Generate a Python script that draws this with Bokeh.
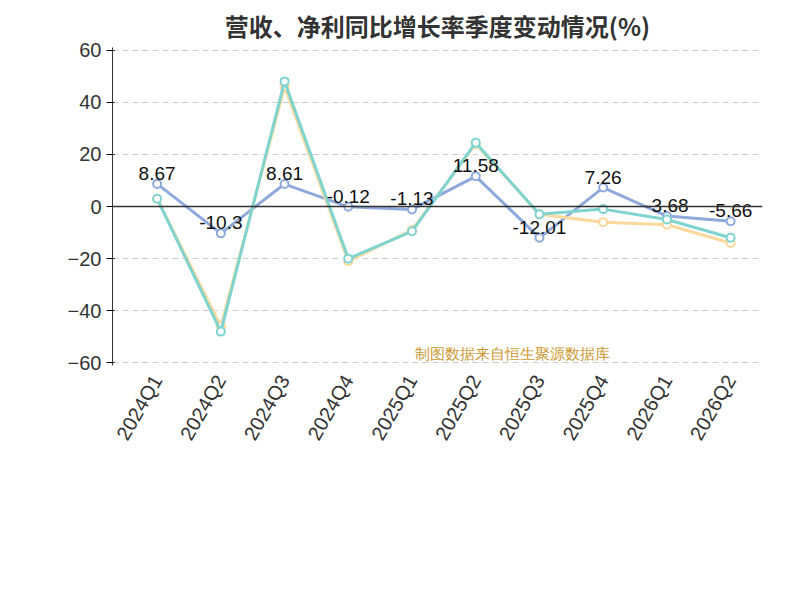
import math
from bokeh.plotting import figure
from bokeh.models import FixedTicker, Span, Legend, LegendItem, Label, ColumnDataSource
from bokeh.embed import file_html
from bokeh.resources import INLINE

quarters = ["2024Q1","2024Q2","2024Q3","2024Q4","2025Q1","2025Q2","2025Q3","2025Q4","2026Q1","2026Q2"]
revenue = [8.67, -10.3, 8.61, -0.12, -1.13, 11.58, -12.01, 7.26, -3.68, -5.66]
net_profit = [3.0, -46.0, 46.0, -21.0, -9.0, 24.0, -3.0, -6.0, -7.0, -14.0]
deducted = [3.0, -48.0, 48.0, -20.0, -9.5, 24.5, -3.0, -1.0, -5.0, -12.0]
yticks = [-60, -40, -20, 0, 20, 40, 60]

xs = list(range(len(quarters)))
p = figure(width=784, height=584, output_backend="svg", toolbar_location=None,
           x_range=(-0.7, 9.5), y_range=(-61, 61),
           min_border_left=112, min_border_right=22, min_border_top=40, min_border_bottom=219)
p.outline_line_color = None
p.title.text = "营收、净利同比增长率季度变动情况(%)"
p.title.align = "center"
p.title.text_font_size = "24px"
p.title.text_color = "#333333"
p.title.text_font = "Noto Sans CJK SC"

p.xgrid.grid_line_color = None
p.ygrid.grid_line_color = "#cccccc"
p.ygrid.grid_line_dash = "6 4"
p.yaxis.ticker = FixedTicker(ticks=yticks)
p.yaxis.major_label_text_font_size = "20px"
p.yaxis.major_label_text_color = "#333333"
p.yaxis.axis_line_color = "#333333"
p.xaxis.ticker = FixedTicker(ticks=xs)
p.xaxis.major_label_overrides = {i: q for i, q in enumerate(quarters)}
p.xaxis.major_label_orientation = math.pi / 3
p.xaxis.major_label_text_font_size = "20px"
p.xaxis.major_label_text_color = "#333333"
p.xaxis.axis_line_color = None
p.xaxis.major_tick_line_color = None
p.add_layout(Span(location=0, dimension="width", line_color="#333333", line_width=1.5))

colors = ["#8fa9dc", "#fbd89b", "#7fd4d0"]
names = ["营业总收入同比增长率", "归母净利润同比增长率", "扣非净利润同比增长率"]
items = []
for data, c, n in zip([revenue, net_profit, deducted], colors, names):
    l = p.line(xs, data, line_color=c, line_width=3)
    s = p.scatter(xs, data, size=8, fill_color="white", line_color=c, line_width=2)
    items.append(LegendItem(label=n, renderers=[l, s]))

src = ColumnDataSource(dict(x=xs, y=revenue, t=[str(v) for v in revenue]))
p.text(x="x", y="y", text="t", source=src, text_align="center", text_baseline="bottom",
       y_offset=-4, text_font_size="19px", text_color="#111111")

legend = Legend(items=[items[0], items[2], items[1]], ncols=2, location=(-30, -190),
                label_text_font_size="20px", label_text_color="#333333", glyph_width=50,
                glyph_height=24, border_line_color=None, background_fill_alpha=0,
                spacing=8, margin=0, padding=4)
p.add_layout(legend, "center")
p.add_layout(Label(x=62, y=445, x_units="screen", y_units="screen", text="%", text_color="red",
                   text_font_size="14px", angle=math.pi / 2))
p.add_layout(Label(x=400, y=4, x_units="screen", y_units="screen", text="制图数据来自恒生聚源数据库",
                   text_color="#cc9933", text_font_size="15px", text_align="center"))
open("out.html", "w").write(file_html(p, INLINE))
